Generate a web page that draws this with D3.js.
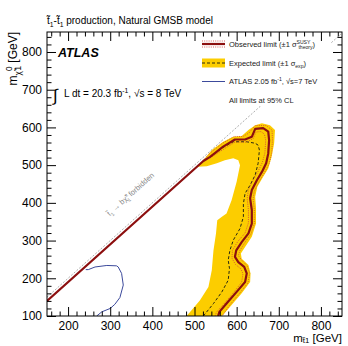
<!DOCTYPE html>
<html>
<head>
<meta charset="utf-8">
<script src="https://cdn.jsdelivr.net/npm/d3@7"></script>
<style>
body { margin: 0; background: #fff; }
svg { display: block; font-family: "Liberation Sans", Arial, sans-serif; }
</style>
</head>
<body>
<svg id="svg" width="348" height="346"></svg>
<script>
const width = 348;
const height = 346;
const frame = { left: 47, right: 342, top: 32, bottom: 316 };

const xDomain = [150, 850];
const yDomain = [100, 853];
const xMajorTicks = [200, 300, 400, 500, 600, 700, 800];
const yMajorTicks = [100, 200, 300, 400, 500, 600, 700, 800];
const minorStep = 20;

// +-1 sigma expected band outline (m_stop, m_chi)
const expectedBand = [
	[481, 100], [493, 115], [513, 142], [533, 177], [541, 221], [545, 274],
	[551, 319], [554, 354], [565, 363], [576, 372], [588, 407], [600, 456],
	[608, 500], [604, 513], [592, 518], [572, 513], [553, 505], [529, 497],
	[508, 496], [521, 513], [541, 540], [568, 562], [592, 575], [612, 577],
	[628, 593], [644, 606], [660, 611], [679, 606], [691, 593], [689, 558],
	[683, 522], [675, 491], [663, 469], [649, 443], [644, 416], [646, 385],
	[646, 345], [636, 310], [620, 283], [610, 266], [612, 252], [628, 235],
	[633, 213], [632, 190], [612, 160], [584, 124], [565, 100]
];

const expectedLimit = [
	[521, 100], [545, 133], [565, 164], [580, 195], [583, 226], [580, 248],
	[584, 274], [592, 301], [608, 332], [616, 363], [616, 398], [620, 425],
	[632, 447], [644, 474], [651, 505], [654, 540], [651, 553], [644, 558],
	[624, 562], [592, 562], [568, 547], [537, 522]
];

const observedLimit = [
	[150, 140], [521, 511], [537, 522], [568, 549], [596, 568], [620, 568],
	[636, 575], [644, 596], [663, 598], [675, 589], [677, 566], [675, 531],
	[670, 505], [660, 482], [648, 460], [636, 434], [632, 412], [636, 381],
	[636, 345], [628, 319], [612, 296], [599, 274], [596, 257], [604, 243],
	[618, 230], [624, 213], [620, 190], [600, 164], [576, 133], [559, 111],
	[556, 100]
];

const observedUp = [
	[521, 513], [534, 529], [565, 557], [594, 576], [615, 576], [629, 585],
	[644, 605], [670, 605], [684, 593], [685, 566], [683, 531], [677, 503],
	[666, 480], [654, 458], [642, 431], [639, 411], [642, 381], [642, 345],
	[634, 317], [620, 296], [608, 274], [604, 260], [612, 248], [625, 233],
	[631, 213], [627, 188], [607, 160], [583, 128], [566, 100]
];

const observedDown = [
	[537, 519], [570, 543], [596, 561], [622, 561], [639, 570], [646, 588],
	[658, 589], [666, 582], [669, 566], [667, 532], [661, 507], [652, 486],
	[640, 462], [628, 435], [625, 411], [628, 381], [628, 347], [620, 320],
	[603, 298], [590, 274], [589, 253], [597, 237], [610, 225], [615, 212],
	[612, 190], [593, 162], [569, 131], [552, 110], [549, 100]
];

const atlas7TeV = [
	[242, 223], [248, 223], [264, 230], [292, 234], [315, 233], [319, 230],
	[327, 213], [331, 182], [323, 149], [311, 131], [300, 120], [280, 111],
	[268, 100]
];

const kinematicLimit = [[150, 150], [853, 853]];

const svg = d3.select('#svg');

const xScale = d3.scaleLinear().domain(xDomain).range([frame.left, frame.right]);
const yScale = d3.scaleLinear().domain(yDomain).range([frame.bottom, frame.top]);

const line = d3.line()
	.x(d => xScale(d[0]))
	.y(d => yScale(d[1]));

svg.append('defs').append('clipPath')
	.attr('id', 'plot-clip')
	.append('rect')
	.attr('x', frame.left)
	.attr('y', frame.top)
	.attr('width', frame.right - frame.left)
	.attr('height', frame.bottom - frame.top);

// text with sub/superscripts: parts = [text, kind, dx]
function richText(sel, parts, size, subShift = 0.32) {
	let cur = 0;
	parts.forEach(([txt, kind, dx]) => {
		const target = kind === 'sub' ? size * subShift : kind === 'sup' ? -size * 0.42 : 0;
		const t = sel.append('tspan')
			.attr('dy', target - cur)
			.attr('font-size', kind ? size * 0.68 : size)
			.text(txt);
		if (dx) t.attr('dx', dx);
		cur = target;
	});
}

const plot = svg.append('g').attr('clip-path', 'url(#plot-clip)');

plot.append('path')
	.attr('d', line(expectedBand) + 'Z')
	.attr('fill', '#fccd00')
	.attr('stroke', 'none');

plot.append('path')
	.attr('d', line(expectedLimit))
	.attr('fill', 'none')
	.attr('stroke', '#2a2a10')
	.attr('stroke-width', 1)
	.attr('stroke-dasharray', '3,2');

[observedUp, observedDown].forEach(d => {
	plot.append('path')
		.attr('d', line(d))
		.attr('fill', 'none')
		.attr('stroke', '#d0403a')
		.attr('stroke-width', 0.8)
		.attr('stroke-dasharray', '1,1.2');
});

plot.append('path')
	.attr('d', line(observedLimit))
	.attr('fill', 'none')
	.attr('stroke', '#8c0f0f')
	.attr('stroke-width', 2.2)
	.attr('stroke-linejoin', 'round');

plot.append('path')
	.attr('d', line(atlas7TeV))
	.attr('fill', 'none')
	.attr('stroke', '#3c4a9c')
	.attr('stroke-width', 1);

plot.append('path')
	.attr('d', line(kinematicLimit))
	.attr('fill', 'none')
	.attr('stroke', '#999')
	.attr('stroke-width', 0.8)
	.attr('stroke-dasharray', '2,1.6');

const forbidden = svg.append('text')
	.attr('transform', 'translate(' + xScale(352) + ',' + yScale(418) + ') rotate(-41.8)')
	.attr('text-anchor', 'middle')
	.attr('fill', '#888')
	.attr('font-size', 7.5);
richText(forbidden, [['t\u0303'], ['1', 'sub'], [' \u2192 b\u03c7\u0303'], ['\u00b1', 'sup'], ['1', 'sub', -3.4], [' forbidden']], 7.5);

// legend
const legend = svg.append('g');
legend.append('rect')
	.attr('x', 198).attr('y', 34)
	.attr('width', 133).attr('height', 72)
	.attr('fill', '#fff');

const lx0 = 202, lx1 = 225, ltx = 229, lfs = 7.5;
const rows = [44, 63, 81.5, 100];

[-3, 3].forEach(o => {
	legend.append('line')
		.attr('x1', lx0).attr('x2', lx1)
		.attr('y1', rows[0] + o).attr('y2', rows[0] + o)
		.attr('stroke', '#d0403a').attr('stroke-width', 0.8)
		.attr('stroke-dasharray', '1,1.2');
});
legend.append('line')
	.attr('x1', lx0).attr('x2', lx1)
	.attr('y1', rows[0]).attr('y2', rows[0])
	.attr('stroke', '#8c0f0f').attr('stroke-width', 2.2);

legend.append('rect')
	.attr('x', lx0).attr('y', rows[1] - 4.5)
	.attr('width', lx1 - lx0).attr('height', 9)
	.attr('fill', '#fccd00');
legend.append('line')
	.attr('x1', lx0).attr('x2', lx1)
	.attr('y1', rows[1]).attr('y2', rows[1])
	.attr('stroke', '#2a2a10').attr('stroke-width', 1)
	.attr('stroke-dasharray', '3,2');

legend.append('line')
	.attr('x1', lx0).attr('x2', lx1)
	.attr('y1', rows[2]).attr('y2', rows[2])
	.attr('stroke', '#3c4a9c').attr('stroke-width', 1);

const legendTexts = [
	[['Observed limit (\u00b11 \u03c3'], ['SUSY', 'sup'], ['theory', 'sub', -12], [')']],
	[['Expected limit (\u00b11 \u03c3'], ['exp', 'sub'], [')']],
	[['ATLAS 2.05 fb'], ['-1', 'sup'], [', \u221as=7 TeV']],
	[['All limits at 95% CL']]
];
legendTexts.forEach((parts, i) => {
	const t = legend.append('text')
		.attr('x', ltx)
		.attr('y', rows[i] + 2.7)
		.attr('fill', '#222')
		.attr('font-size', lfs);
	richText(t, parts, lfs);
});

// frame and axes
svg.append('rect')
	.attr('x', frame.left).attr('y', frame.top)
	.attr('width', frame.right - frame.left)
	.attr('height', frame.bottom - frame.top)
	.attr('fill', 'none')
	.attr('stroke', '#000')
	.attr('stroke-width', 1);

const xMinor = d3.range(160, 850, minorStep).filter(v => !xMajorTicks.includes(v));
const yMinor = d3.range(120, 853, minorStep).filter(v => !yMajorTicks.includes(v));

function addAxis(axisFn, scale, values, size, transform, labels) {
	const g = svg.append('g')
		.attr('transform', transform)
		.call(axisFn(scale)
			.tickValues(values)
			.tickSize(-size)
			.tickPadding(5)
			.tickFormat(labels ? d3.format('d') : ''));
	g.select('.domain').remove();
	g.selectAll('.tick line').attr('stroke', '#000');
	g.selectAll('text')
		.attr('font-size', 12)
		.attr('fill', '#000')
		.attr('font-family', '"Liberation Sans", Arial, sans-serif');
	return g;
}

addAxis(d3.axisBottom, xScale, xMajorTicks, 9, 'translate(0,' + frame.bottom + ')', true);
addAxis(d3.axisBottom, xScale, xMinor, 4.5, 'translate(0,' + frame.bottom + ')', false);
addAxis(d3.axisTop, xScale, xMajorTicks, 9, 'translate(0,' + frame.top + ')', false);
addAxis(d3.axisTop, xScale, xMinor, 4.5, 'translate(0,' + frame.top + ')', false);
addAxis(d3.axisLeft, yScale, yMajorTicks, 9, 'translate(' + frame.left + ',0)', true);
addAxis(d3.axisLeft, yScale, yMinor, 4.5, 'translate(' + frame.left + ',0)', false);
addAxis(d3.axisRight, yScale, yMajorTicks, 9, 'translate(' + frame.right + ',0)', false);
addAxis(d3.axisRight, yScale, yMinor, 4.5, 'translate(' + frame.right + ',0)', false);

// axis titles
const xTitle = svg.append('text')
	.attr('x', frame.right)
	.attr('y', 342)
	.attr('text-anchor', 'end')
	.attr('font-size', 11.5);
richText(xTitle, [['m'], ['t\u0303', 'sub'], ['1', 'sub'], [' [GeV]']], 11.5, 0.12);

const yTitle = svg.append('text')
	.attr('transform', 'translate(17,' + frame.top + ') rotate(-90)')
	.attr('text-anchor', 'end')
	.attr('font-size', 12);
richText(yTitle, [['m'], ['\u03c7\u0303', 'sub'], ['0', 'sup'], ['1', 'sub', -4], [' [GeV]']], 12);

// labels
const title = svg.append('text')
	.attr('x', frame.left)
	.attr('y', 24)
	.attr('font-size', 10);
richText(title, [['t\u0303'], ['1', 'sub'], ['-t\u0303'], ['1', 'sub'], [' production, Natural GMSB model']], 10);

svg.append('text')
	.attr('x', 58)
	.attr('y', 56.5)
	.attr('font-size', 12.5)
	.attr('font-weight', 'bold')
	.attr('font-style', 'italic')
	.text('ATLAS');

svg.append('text')
	.attr('x', 53)
	.attr('y', 101)
	.attr('font-size', 17)
	.text('\u222b');

const lumi = svg.append('text')
	.attr('x', 64)
	.attr('y', 97)
	.attr('font-size', 10);
richText(lumi, [['L dt = 20.3 fb'], ['-1', 'sup'], [',  \u221as = 8 TeV']], 10);
</script>
</body>
</html>
